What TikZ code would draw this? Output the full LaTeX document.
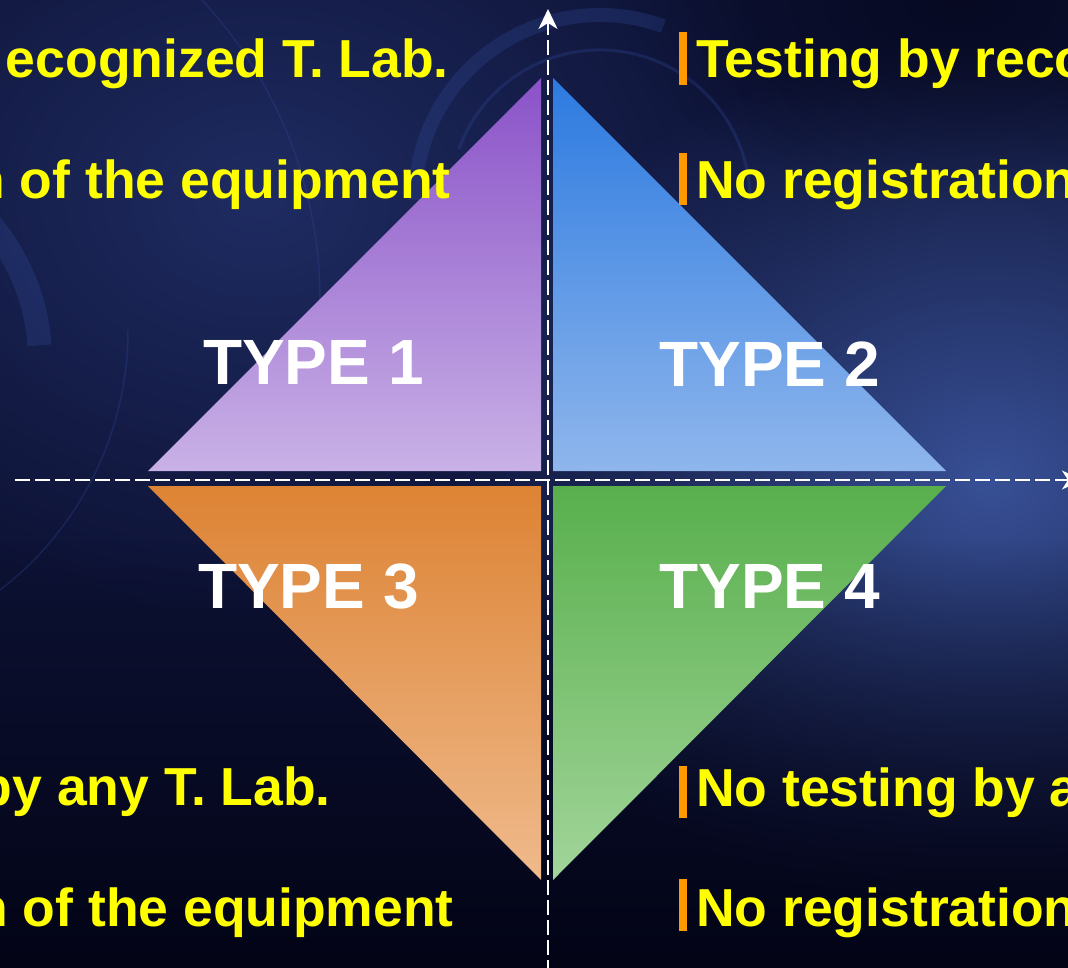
\documentclass[tikz,border=0pt]{standalone}
\usepackage{fontspec}
\setmainfont{Liberation Sans}
\usepackage{xcolor}
\usepackage{tikz}
\usetikzlibrary{arrows.meta}
\usetikzlibrary{fadings}
\definecolor{bg-base}{RGB}{13, 18, 52}
\definecolor{bg-glow1}{RGB}{31, 44, 98}
\definecolor{bg-glow2}{RGB}{56, 80, 150}
\definecolor{bg-deep}{RGB}{3, 4, 22}
\definecolor{bg-ring}{RGB}{48, 72, 150}
\definecolor{t1-top}{RGB}{138, 82, 200}
\definecolor{t1-bot}{RGB}{201, 177, 230}
\definecolor{t2-top}{RGB}{44, 122, 224}
\definecolor{t2-bot}{RGB}{143, 182, 236}
\definecolor{t3-top}{RGB}{221, 131, 52}
\definecolor{t3-bot}{RGB}{239, 186, 140}
\definecolor{t4-top}{RGB}{88, 175, 76}
\definecolor{t4-bot}{RGB}{162, 213, 154}
\definecolor{note-yellow}{RGB}{255, 255, 0}
\definecolor{note-orange}{RGB}{255, 153, 0}
\tikzfading[name=glowfade, inner color=transparent!0, outer color=transparent!100]
\tikzfading[name=downfade, top color=transparent!100, bottom color=transparent!0]

\begin{document}
\begin{tikzpicture}[x=1pt, y=-1pt,
    axisline/.style={white, line width=2pt, dash pattern=on 15pt off 5pt,
      -{Stealth[length=20pt, width=19pt, inset=6pt]}},
    ring/.style={bg-ring, opacity=0.3},
    notetext/.style={text=note-yellow, inner sep=0pt,
      font=\fontsize{53.5}{60}\selectfont\bfseries},
    typetext/.style={text=white, inner sep=0pt,
      font=\fontsize{64}{70}\selectfont\bfseries},
    notebar/.style={fill=note-orange}]
  \useasboundingbox (0,0) rectangle (1068,968);
  \clip (0,0) rectangle (1068,968);

  % background
  \fill[bg-base] (0,0) rectangle (1068,968);
  \fill[bg-glow1, path fading=glowfade] (260,200) ellipse [x radius=560, y radius=420];
  \fill[bg-glow2, path fading=glowfade] (990,480) ellipse [x radius=540, y radius=440];
  \fill[bg-deep, path fading=downfade] (0,540) rectangle (1068,968);
  \fill[bg-deep, opacity=0.6, path fading=glowfade] (960,0) ellipse [x radius=340, y radius=200];

  \draw[ring, line width=1.5pt] (-120,300) ++(-45:440) arc[radius=440, start angle=-45, end angle=8];
  \draw[ring, line width=1.5pt] (-200,330) ++(0:328) arc[radius=328, start angle=0, end angle=55];
  \draw[ring, line width=24pt] (-170,360) ++(-50:210) arc[radius=210, start angle=-50, end angle=-4];
  \draw[ring, line width=14pt] (600,200) ++(180:185) arc[radius=185, start angle=180, end angle=290];
  \draw[ring, line width=3pt] (600,200) ++(200:150) arc[radius=150, start angle=200, end angle=360];

  % the four triangles
  \shade[top color=t1-top, bottom color=t1-bot] (541,78) -- (541,471) -- (148,471) -- cycle;
  \shade[top color=t2-top, bottom color=t2-bot] (553,78) -- (553,471) -- (946,471) -- cycle;
  \shade[top color=t3-top, bottom color=t3-bot] (148,486) -- (541,486) -- (541,880) -- cycle;
  \shade[top color=t4-top, bottom color=t4-bot] (553,486) -- (946,486) -- (553,880) -- cycle;

  % axes
  \coordinate (ybase) at (548,975);
  \coordinate (ytip) at (548,9);
  \coordinate (xbase) at (15,480);
  \coordinate (xtip) at (1082,480);
  \draw[axisline] (ybase) -- (ytip);
  \draw[axisline] (xbase) -- (xtip);

  \node[typetext, anchor=base west] (type1) at (203,384) {TYPE 1};
  \node[typetext, anchor=base west] (type2) at (659,386) {TYPE 2};
  \node[typetext, anchor=base west] (type3) at (198,608) {TYPE 3};
  \node[typetext, anchor=base west] (type4) at (659,608) {TYPE 4};

  % notes on the left
  \node[notetext, anchor=base east] (note1a) at (449,78) {ecognized T. Lab.};
  \node[notetext, anchor=base east] (note1b) at (451,199) {n of the equipment};
  \node[notetext, anchor=base east] (note3a) at (331,805) {by any T. Lab.};
  \node[notetext, anchor=base east] (note3b) at (454,926) {n of the equipment};

  % notes on the right
  \fill[notebar] (679,32) rectangle (687,85);
  \node[notetext, anchor=base west] (note2a) at (696,78) {Testing by reco};
  \fill[notebar] (679,153) rectangle (687,205);
  \node[notetext, anchor=base west] (note2b) at (696,199) {No registration};
  \fill[notebar] (679,766) rectangle (687,818);
  \node[notetext, anchor=base west] (note4a) at (696,806) {No testing by a};
  \fill[notebar] (679,879) rectangle (687,931);
  \node[notetext, anchor=base west] (note4b) at (696,926) {No registration};
\end{tikzpicture}
\end{document}
